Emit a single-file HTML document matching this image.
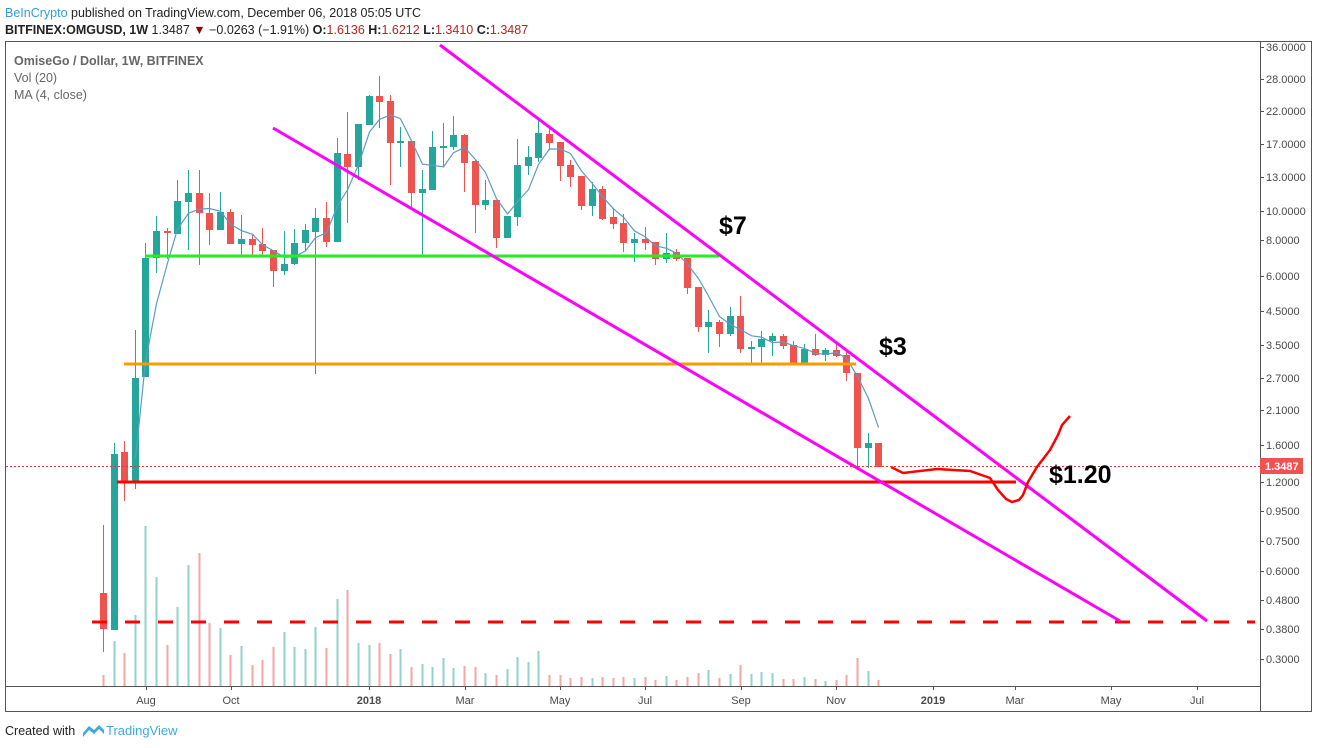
<!DOCTYPE html>
<html><head><meta charset="utf-8"><style>
html,body{margin:0;padding:0;background:#fff;width:1317px;height:748px;overflow:hidden;font-family:"Liberation Sans",sans-serif}
svg{position:absolute;left:0;top:0}
</style></head><body>
<svg id="s" width="1317" height="748" xmlns="http://www.w3.org/2000/svg">
<rect x="0" y="0" width="1317" height="748" fill="#fff"/>
<text x="5" y="17" font-size="12.5" fill="#222"><tspan fill="#2f9fd9">BeInCrypto</tspan> published on TradingView.com, December 06, 2018 05:05 UTC</text>
<text x="5" y="34" font-size="12.5" fill="#222"><tspan font-weight="bold">BITFINEX:OMGUSD, 1W</tspan> 1.3487 <tspan fill="#8b0000">▼</tspan> −0.0263 (−1.91%) <tspan font-weight="bold">O:</tspan><tspan fill="#b22">1.6136</tspan> <tspan font-weight="bold">H:</tspan><tspan fill="#b22">1.6212</tspan> <tspan font-weight="bold">L:</tspan><tspan fill="#b22">1.3410</tspan> <tspan font-weight="bold">C:</tspan><tspan fill="#b22">1.3487</tspan></text>
<rect x="5.5" y="41.5" width="1306" height="670" fill="none" stroke="#555" stroke-width="1"/>
<line x1="1260.5" y1="42" x2="1260.5" y2="711" stroke="#555"/>
<line x1="6" y1="686.5" x2="1260" y2="686.5" stroke="#555"/>
<text x="14" y="65" font-size="12.5" fill="#666" font-weight="bold">OmiseGo / Dollar, 1W, BITFINEX</text>
<text x="14" y="82" font-size="12.5" fill="#666">Vol (20)</text>
<text x="14" y="99" font-size="12.5" fill="#666">MA (4, close)</text>
<g id="axis" font-size="11" fill="#4a4a4a"></g>
<g id="vol"></g>
<g id="cand"></g>
<polyline id="ma" fill="none" stroke="#5b9bc4" stroke-width="1.2"/>
<line x1="145" y1="256" x2="719" y2="256" stroke="#22ee22" stroke-width="3"/>
<line x1="124" y1="364" x2="856" y2="364" stroke="#ff9900" stroke-width="3"/>
<line x1="117" y1="482" x2="1016" y2="482" stroke="#ff0000" stroke-width="3"/>
<line x1="92" y1="622" x2="1255" y2="622" stroke="#ff0000" stroke-width="3" stroke-dasharray="15,18"/>
<line x1="440" y1="45" x2="1207" y2="621" stroke="#ff00ff" stroke-width="3"/>
<line x1="273" y1="128" x2="1120" y2="621" stroke="#ff00ff" stroke-width="3"/>
<polyline points="891,467 903,473 937,469 970,471 990,478 998,490 1006,499 1012,502 1019,500 1023,495 1028,482 1037,467 1050,450 1058,435 1062,425 1070,416" fill="none" stroke="#ff0000" stroke-width="2.5"/>
<line x1="6" y1="466.5" x2="1260" y2="466.5" stroke="#ee3333" stroke-width="1" stroke-dasharray="2,2"/>
<rect x="1260" y="458" width="43" height="16" fill="#ef5350"/>
<text x="1265" y="470" font-size="11" fill="#fff" font-weight="bold">1.3487</text>
<text x="719" y="234" font-size="25" font-weight="bold" fill="#000">$7</text>
<text x="879" y="355" font-size="25" font-weight="bold" fill="#000">$3</text>
<text x="1049" y="483" font-size="25" font-weight="bold" fill="#000">$1.20</text>
<g font-size="11" fill="#4a4a4a" text-anchor="middle">
<text x="146" y="704">Aug</text><text x="231" y="704">Oct</text><text x="369" y="704" font-weight="bold">2018</text>
<text x="465" y="704">Mar</text><text x="560" y="704">May</text><text x="645" y="704">Jul</text>
<text x="741" y="704">Sep</text><text x="836" y="704">Nov</text><text x="933" y="704" font-weight="bold">2019</text>
<text x="1015" y="704">Mar</text><text x="1111" y="704">May</text><text x="1197" y="704">Jul</text>
</g>
<g id="xt" stroke="#555"></g>
<text x="5" y="735" font-size="12.5" fill="#222">Created with</text>
<path d="M83 733 l6-7 l5 4 l5-5 l5 5 v4 l-5-5 l-5 5 l-5-4 l-6 7z" fill="#3fa9e0"/>
<text x="106" y="735" font-size="13" fill="#3fa9e0">TradingView</text>
</svg>
<script>
var NS="http://www.w3.org/2000/svg";
function el(p,t,a){var e=document.createElementNS(NS,t);for(var k in a)e.setAttribute(k,a[k]);p.appendChild(e);return e;}
var ax=document.getElementById('axis');
[["36.0000",47],["28.0000",79],["22.0000",111],["17.0000",144],["13.0000",177],["10.0000",211],["8.0000",240],["6.0000",276],["4.5000",311],["3.5000",345],["2.7000",378],["2.1000",410],["1.6000",445],["1.2000",482],["0.9500",511],["0.7500",541],["0.6000",571],["0.4800",600],["0.3800",629],["0.3000",659]].forEach(function(a){
 el(ax,'line',{x1:1260,x2:1264,y1:a[1]+.5,y2:a[1]+.5,stroke:'#555'});
 var t=el(ax,'text',{x:1266,y:a[1]+4});t.textContent=a[0];
});
var xt=document.getElementById('xt');
[146,231,369,465,560,645,741,836,933,1015,1111,1197].forEach(function(x){el(xt,'line',{x1:x+.5,x2:x+.5,y1:686,y2:690});});
var D=[
"r 593 629 525 652","g 454 630 443 630","r 452 483 441 501","g 378 482 330 489","g 258 377 243 377","g 231 258 216 273","r 231 233 228 259","g 201 234 180 234","g 193 202 170 250","r 193 213 170 265",
"r 213 230 193 245","g 212 230 192 230","r 212 244 209 244","g 239 244 215 257","r 239 245 235 257","r 244 251 228 255","r 250 271 250 287","g 264 271 231 275","g 243 264 229 265","g 230 243 224 251",
"g 218 232 208 374","r 218 242 202 247","g 153 242 138 242","r 154 167 112 223","g 124 167 124 180","g 96 125 95 125","r 96 102 76 128","r 101 143 95 185","g 141 143 127 167","r 141 193 141 208",
"g 189 193 170 255","g 147 190 131 190","g 146 148 123 167","g 135 147 116 150","r 135 163 134 192","r 161 205 160 233","g 200 205 180 210","r 200 238 200 248","g 216 238 216 238","g 165 217 139 226",
"g 157 166 146 175","g 133 158 117 162","r 134 143 128 150","r 142 166 142 181","r 165 177 160 187","r 176 206 176 210","g 189 206 182 216","r 189 219 186 220","r 217 224 208 229","r 223 243 214 252",
"g 239 243 233 262","r 239 243 227 250","r 242 259 242 265","g 253 259 233 263","r 252 259 249 261","r 258 288 258 294",
"r 287 327 287 332","g 322 327 310 353","r 322 334 320 347","g 316 334 307 336","r 316 349 296 353","g 347 348 341 363","g 339 347 331 365","g 336 341 333 356","r 336 346 334 349","r 345 364 341 365",
"g 349 364 344 364","r 349 355 334 356","g 350 355 348 361","r 350 356 342 357","r 355 373 351 381","r 373 448 373 467","g 443 448 433 468","r 443 467 443 467"];
var V=[675,641,653,615,526,577,645,607,565,553,623,628,655,646,665,660,647,632,647,649,627,648,599,590,643,645,643,654,649,667,664,667,658,668,666,667,673,675,669,657,662,651,675,675,678,677,678,677,678,677,678,677,680,676,680,677,673,670,678,674,665,674,672,673,679,679,677,679,681,680,675,658,671,680];
var cg=document.getElementById('cand'),vg=document.getElementById('vol');
var closes=[],xs=[];
D.forEach(function(s,i){
 var a=s.split(' '),c=a[0],t=+a[1],b=+a[2],h=+a[3],l=+a[4];
 var x=Math.round(103+i*10.62);
 var col=c=='g'?'#26a69a':'#ef5350';
 el(cg,'line',{x1:x+.5,x2:x+.5,y1:h,y2:l,stroke:col,'stroke-width':1});
 el(cg,'rect',{x:x-3,y:t,width:7,height:Math.max(2,b-t),fill:col});
 var vt=V[i]||680;
 el(vg,'rect',{x:x-0.5,y:vt,width:2,height:686-vt,fill:c=='g'?'#92d2cb':'#f5a5a3'});
 var cy=c=='g'?t:b;
 closes.push(36*Math.exp(-(cy-47)/127.8));xs.push(x+.5);
});
var pts=[];
for(var i=3;i<closes.length;i++){var m=(closes[i]+closes[i-1]+closes[i-2]+closes[i-3])/4;pts.push(xs[i]+','+(47+127.8*Math.log(36/m)).toFixed(1));}
document.getElementById('ma').setAttribute('points',pts.join(' '));
</script>
</body></html>
